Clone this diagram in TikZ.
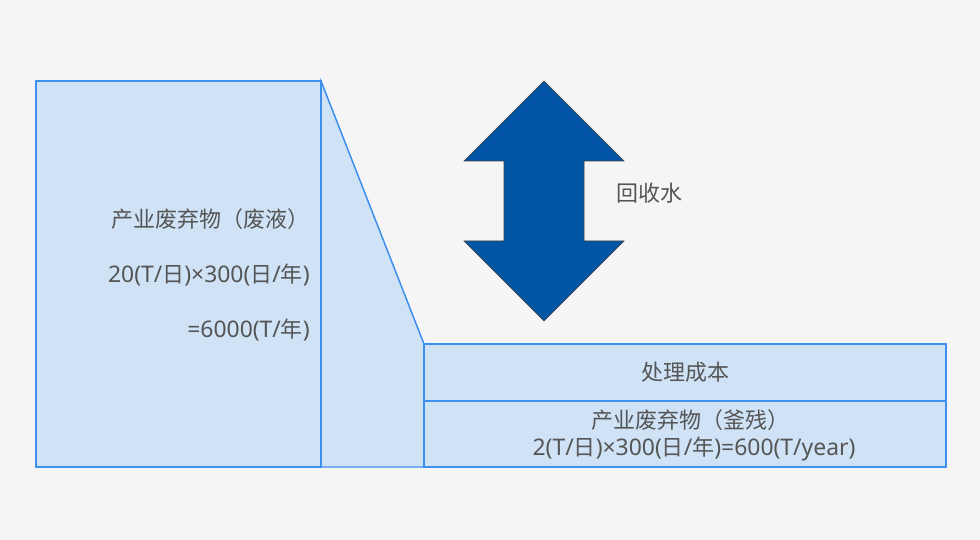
\documentclass[tikz,border=0pt]{standalone}
\usepackage{fontspec}
\setmainfont{Noto Sans CJK SC}
\newfontfamily\latfont{Noto Sans}[Scale=1.04]
\newcommand{\la}[1]{{\latfont #1}}
\definecolor{bg}{HTML}{F5F5F5}
\definecolor{boxfill}{HTML}{CFE2F6}
\definecolor{edge}{HTML}{3F8FEF}
\definecolor{arrowblue}{HTML}{0055A4}
\definecolor{txt}{HTML}{555555}
\begin{document}
\begin{tikzpicture}[x=1pt,y=-1pt,
  box/.style={draw=edge, fill=boxfill, line width=1.2pt, inner sep=0pt, outer sep=0pt, anchor=north west},
  lbl/.style={text=txt, font=\fontsize{22}{26}\selectfont, inner sep=0pt}]
\fill[bg] (0,0) rectangle (980,540);
\useasboundingbox (0,0) rectangle (980,540);
% slope trapezoid
\filldraw[draw=edge, fill=boxfill, line width=1.2pt] (321,81) -- (424,344) -- (424,467) -- (321,467) -- cycle;
% boxes
\node[box, minimum width=285pt, minimum height=386pt] (L) at (36,81) {};
\node[box, minimum width=522pt, minimum height=57pt] (R1) at (424,344) {};
\node[box, minimum width=522pt, minimum height=66pt] (R2) at (424,401) {};
\draw[edge, line width=1.2pt] (L.north east) -- (R1.north west);
% arrow
\filldraw[fill=arrowblue, draw=black!75, line width=0.6pt]
  (544,81) -- (624,161) -- (584,161) -- (584,241) -- (624,241) -- (544,321)
  -- (464,241) -- (504,241) -- (504,161) -- (464,161) -- cycle;
\node[lbl, anchor=west] (water) at (616,193) {回收水};
% left texts
\node[lbl, anchor=east] (t1) at (310,219) {产业废弃物（废液）};
\node[lbl, anchor=east] (t2) at (310,275) {\la{20(T/}日\la{)×300(}日\la{/}年\la{)}};
\node[lbl, anchor=east] (t3) at (310,330) {\la{=6000(T/}年\la{)}};
% right texts
\node[lbl] (cost) at (R1.center) {处理成本};
\node[lbl] (r1) at (690,420) {产业废弃物（釜残）};
\node[lbl] (r2) at (694,449) {\la{2(T/}日\la{)×300(}日\la{/}年\la{)=600(T/year)}};
\end{tikzpicture}
\end{document}
